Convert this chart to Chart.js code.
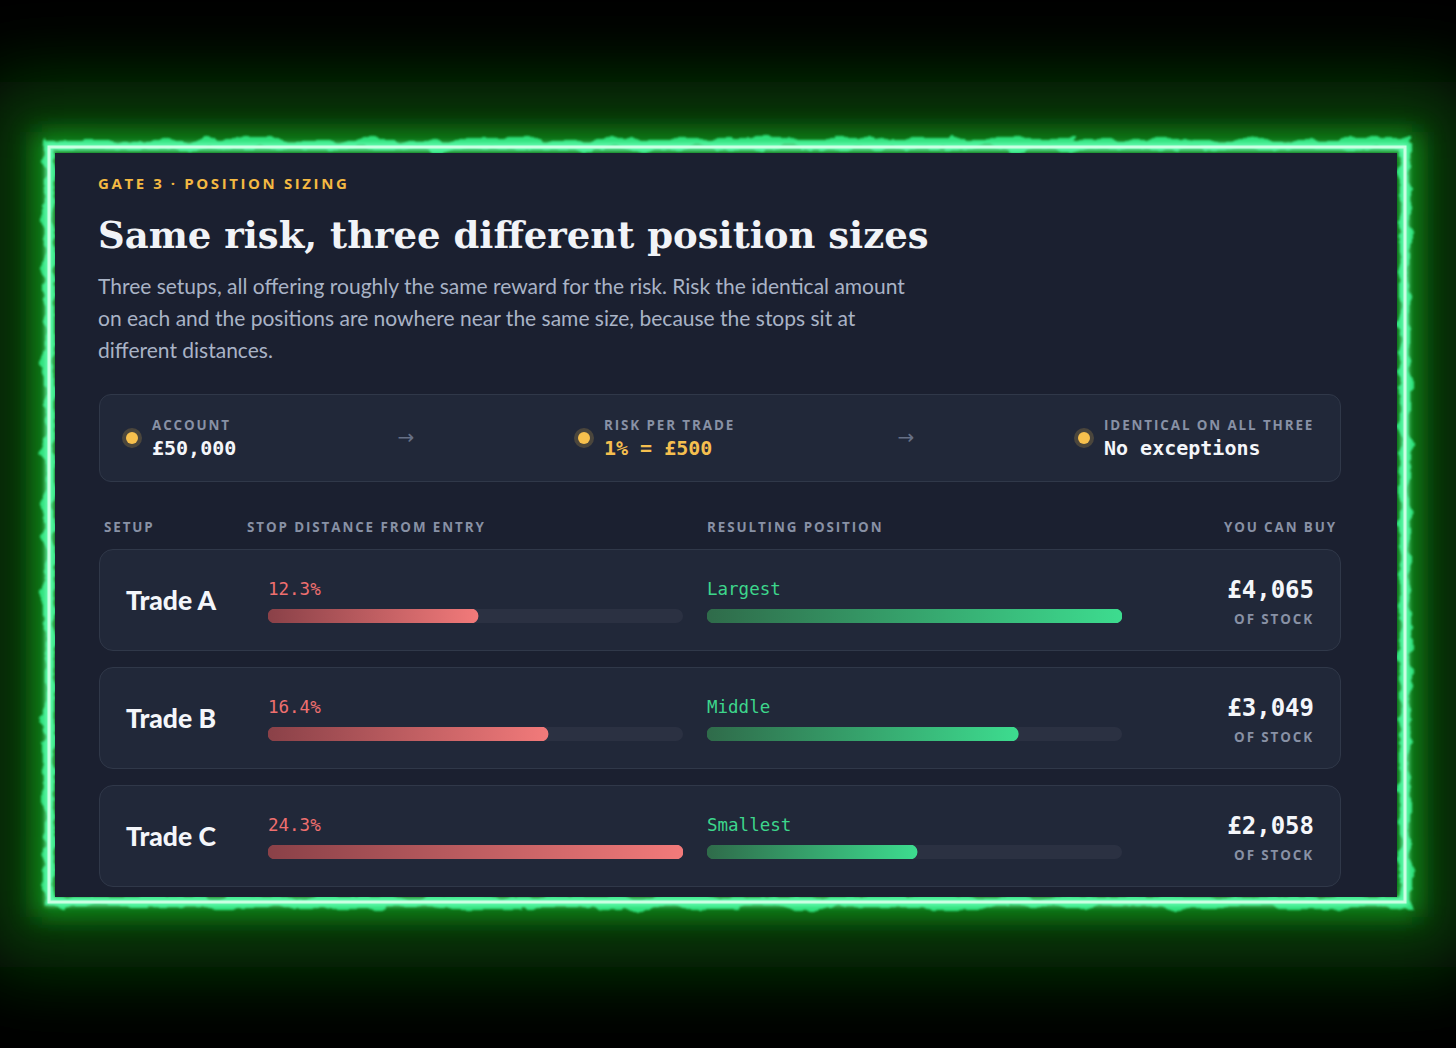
<!DOCTYPE html>
<html>
<head>
<meta charset="utf-8">
<script src="https://cdn.jsdelivr.net/npm/chart.js@4.4.1/dist/chart.umd.min.js"></script>
<style>
    html, body { margin: 0; padding: 0; }
    body {
        width: 1456px; height: 1048px; overflow: hidden;
        background: #000; position: relative;
        font-family: 'Open Sans', 'Noto Sans', sans-serif;
    }
    #fx { position: absolute; left: 0; top: 0; }
    .card {
        position: absolute; left: 55px; top: 153px;
        width: 1342px; height: 744px;
        background: #1b2030; overflow: hidden;
    }
    .abs { position: absolute; white-space: nowrap; }
    .eyebrow {
        left: 43px; top: 20px; line-height: 20px;
        font-size: 15px; font-weight: 700; letter-spacing: 2.6px;
        color: #f4b942;
    }
    .title {
        left: 43px; top: 58px; line-height: 48px;
        font-family: 'DejaVu Serif', serif; font-weight: 700;
        font-size: 37px; color: #f1f3f7;
    }
    .lede {
        left: 43px; top: 117px; line-height: 32px;
        font-family: 'Lato', sans-serif; font-size: 21px; color: #a9b3c6;
    }
    .caps {
        font-size: 13.4px; font-weight: 700; letter-spacing: 1.9px;
        color: #8891a5; line-height: 20px;
    }
    .mono { font-family: 'DejaVu Sans Mono', monospace; }
    .infobar {
        position: absolute; left: 44px; top: 241px;
        width: 1242px; height: 88px; box-sizing: border-box;
        background: #212839; border: 1px solid #303849; border-radius: 12px;
    }
    .dot {
        position: absolute; width: 12px; height: 12px; margin: -6px 0 0 -6px;
        border-radius: 50%; background: #f7c04d;
        box-shadow: 0 0 0 4px rgba(247, 192, 77, 0.2);
    }
    .ilabel { top: 20px; }
    .ivalue { top: 39px; font-size: 20px; font-weight: 700; line-height: 28px; color: #f4f6fa; }
    .arrow {
        top: 28px; font-family: 'DejaVu Sans', sans-serif; font-size: 20px;
        line-height: 28px; color: #667086; transform: translateX(-50%);
    }
    .row {
        position: absolute; left: 44px; width: 1242px; height: 102px;
        box-sizing: border-box; background: #212839;
        border: 1px solid #303849; border-radius: 14px;
    }
    .setup {
        left: 26px; top: 34px; line-height: 32px;
        font-family: 'Lato', sans-serif; font-weight: 900; font-size: 26.5px; color: #f4f6fa;
    }
    .blabel { top: 27px; font-size: 17.5px; line-height: 24px; }
    .bar { position: absolute; top: 59px; width: 415px; height: 14px; }
    .amount {
        right: 26px; top: 25px; font-size: 24px; font-weight: 700;
        line-height: 30px; color: #f4f6fa;
    }
    .ofstock { right: 26px; top: 59px; }
</style>
</head>
<body>
<svg id="fx" width="1456" height="1048">
    <defs>
        <filter id="blurBig" filterUnits="userSpaceOnUse" x="0" y="0" width="1456" height="1048">
            <feGaussianBlur stdDeviation="40"/>
        </filter>
        <filter id="blurMid" filterUnits="userSpaceOnUse" x="0" y="0" width="1456" height="1048">
            <feGaussianBlur stdDeviation="12"/>
        </filter>
        <filter id="flame" filterUnits="userSpaceOnUse" x="0" y="0" width="1456" height="1048">
            <feTurbulence type="fractalNoise" baseFrequency="0.035 0.06" numOctaves="3" seed="7" result="noise"/>
            <feDisplacementMap in="SourceGraphic" in2="noise" scale="16" xChannelSelector="R" yChannelSelector="G" result="d"/>
            <feGaussianBlur in="d" stdDeviation="1.2"/>
        </filter>
        <filter id="soft" filterUnits="userSpaceOnUse" x="0" y="0" width="1456" height="1048">
            <feGaussianBlur stdDeviation="2.5"/>
        </filter>
    </defs>
    <rect x="49" y="147" width="1356" height="755" fill="none" stroke="#0b6a0e" stroke-width="130" opacity="0.6" filter="url(#blurBig)"/>
    <rect x="49" y="147" width="1356" height="755" fill="none" stroke="#16a824" stroke-width="30" opacity="0.75" filter="url(#blurMid)"/>
    <rect x="49" y="144" width="1356" height="758" fill="none" stroke="#2ee07a" stroke-width="10" filter="url(#flame)"/>
    <rect x="49" y="147" width="1356" height="755" fill="none" stroke="#6dffb8" stroke-width="7" filter="url(#soft)"/>
    <rect x="49" y="147" width="1356" height="755" fill="none" stroke="#c9ffe2" stroke-width="3"/>
</svg>

<div class="card" id="card">
    <div class="abs eyebrow">GATE 3 · POSITION SIZING</div>
    <div class="abs title">Same risk, three different position sizes</div>
    <div class="abs lede">Three setups, all offering roughly the same reward for the risk. Risk the identical amount<br>on each and the positions are nowhere near the same size, because the stops sit at<br>different distances.</div>

    <div class="infobar" id="infobar"></div>

    <div class="abs caps" style="left:49px;top:364px">SETUP</div>
    <div class="abs caps" style="left:192px;top:364px">STOP DISTANCE FROM ENTRY</div>
    <div class="abs caps" style="left:652px;top:364px">RESULTING POSITION</div>
    <div class="abs caps" style="right:60px;top:364px">YOU CAN BUY</div>
</div>

<script>
// Chart values
const setups = ['Trade A', 'Trade B', 'Trade C'];
const stopDistance = [12.3, 16.4, 24.3];      // % from entry
const positionValue = [4065, 3049, 2058];     // £ of stock
const positionLabels = ['Largest', 'Middle', 'Smallest'];

// Info strip
const infoLabels = ['ACCOUNT', 'RISK PER TRADE', 'IDENTICAL ON ALL THREE'];
const infoValues = ['£50,000', '1% = £500', 'No exceptions'];

const stopMax = Math.max(...stopDistance);
const posMax = Math.max(...positionValue);

// Build info strip
const infobar = document.getElementById('infobar');
const infoX = [32, 484, 984];
const arrowX = [306, 806];
infoLabels.forEach((lab, i) => {
    infobar.insertAdjacentHTML('beforeend',
        '<div class="dot" style="left:' + infoX[i] + 'px;top:43px"></div>' +
        '<div class="abs caps ilabel" style="left:' + (infoX[i] + 20) + 'px">' + lab + '</div>' +
        '<div class="abs mono ivalue" style="left:' + (infoX[i] + 20) + 'px;' + (i === 1 ? 'color:#f5bf4f' : '') + '">' + infoValues[i] + '</div>');
});
arrowX.forEach(x => {
    infobar.insertAdjacentHTML('beforeend', '<div class="abs arrow" style="left:' + x + 'px">→</div>');
});

// Build rows
const card = document.getElementById('card');
setups.forEach((name, i) => {
    const top = 396 + i * 118;
    card.insertAdjacentHTML('beforeend',
        '<div class="row" style="top:' + top + 'px">' +
            '<div class="abs setup">' + name + '</div>' +
            '<div class="abs mono blabel" style="left:168px;color:#ef6f6f">' + stopDistance[i].toFixed(1) + '%</div>' +
            '<div class="bar" style="left:168px"><canvas id="stop' + i + '"></canvas></div>' +
            '<div class="abs mono blabel" style="left:607px;color:#3dd68c">' + positionLabels[i] + '</div>' +
            '<div class="bar" style="left:607px"><canvas id="pos' + i + '"></canvas></div>' +
            '<div class="abs mono amount">£' + positionValue[i].toLocaleString('en-GB') + '</div>' +
            '<div class="abs caps ofstock">OF STOCK</div>' +
        '</div>');
});

// Draws the empty track behind each bar
const trackPlugin = {
    id: 'track',
    beforeDatasetsDraw(chart) {
        const a = chart.chartArea;
        const ctx = chart.ctx;
        const r = (a.bottom - a.top) / 2;
        ctx.save();
        ctx.fillStyle = '#2b3142';
        ctx.beginPath();
        ctx.roundRect(a.left, a.top, a.right - a.left, a.bottom - a.top, r);
        ctx.fill();
        ctx.restore();
    }
};

function makeBar(id, value, max, fromColor, toColor) {
    const ctx = document.getElementById(id).getContext('2d');
    return new Chart(ctx, {
        type: 'bar',
        data: {
            labels: [''],
            datasets: [{
                data: [value],
                backgroundColor: function (c) {
                    const chart = c.chart;
                    if (!chart.chartArea || c.raw === undefined) {
                        return toColor;
                    }
                    const x0 = chart.chartArea.left;
                    const x1 = chart.scales.x.getPixelForValue(c.raw);
                    const g = chart.ctx.createLinearGradient(x0, 0, x1, 0);
                    g.addColorStop(0, fromColor);
                    g.addColorStop(1, toColor);
                    return g;
                },
                borderRadius: 7,
                borderSkipped: false,
                barPercentage: 1,
                categoryPercentage: 1
            }]
        },
        options: {
            indexAxis: 'y',
            responsive: true,
            maintainAspectRatio: false,
            animation: false,
            layout: { padding: 0 },
            plugins: {
                legend: { display: false },
                tooltip: { enabled: false }
            },
            scales: {
                x: { display: false, min: 0, max: max },
                y: { display: false }
            }
        },
        plugins: [trackPlugin]
    });
}

stopDistance.forEach((v, i) => makeBar('stop' + i, v, stopMax, '#8a4148', '#f27a7a'));
positionValue.forEach((v, i) => makeBar('pos' + i, v, posMax, '#2f6b4a', '#3ddc8f'));
</script>
</body>
</html>
